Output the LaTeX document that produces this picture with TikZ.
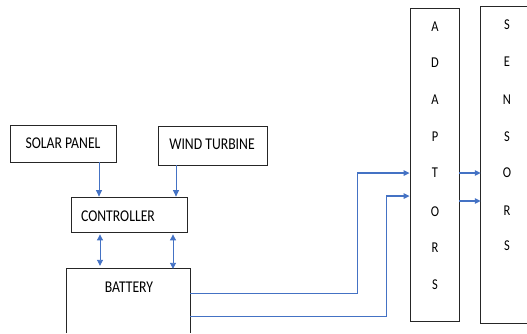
\documentclass[tikz,border=0pt]{standalone}
\usepackage{fontspec}
\setmainfont{Carlito}
\usetikzlibrary{arrows.meta}
\definecolor{linkblue}{RGB}{68,114,196}
\newcommand{\tallt}[1]{\scalebox{1}[1.2]{#1}}
\begin{document}
\begin{tikzpicture}[x=1pt,y=-1pt,
  box/.style={draw=black!85,line width=0.8pt,inner sep=0pt},
  openbox/.style={inner sep=0pt},
  lbl/.style={font=\fontsize{13.7}{14}\selectfont,inner sep=0pt},
  let/.style={font=\fontsize{12.5}{13}\selectfont,inner sep=0pt},
  conn/.style={draw=linkblue,line width=0.9pt},
  arr/.style={conn,-{Triangle[length=6.5pt,width=6pt]}},
  harr/.style={conn,line width=1.3pt,-{Triangle[length=6pt,width=5.5pt]}},
  darr/.style={conn,{Triangle[length=6pt,width=6pt]}-{Triangle[length=6pt,width=6pt]}}]
\useasboundingbox (0,0) rectangle (527,333);
% boxes
\node[box,minimum width=106pt,minimum height=37pt] (sp) at (63,143.5) {};
\node[box,minimum width=109pt,minimum height=39pt] (wt) at (212.5,145.5) {};
\node[box,minimum width=116pt,minimum height=35pt] (ctl) at (129,214.5) {};
\node[openbox,minimum width=123pt,minimum height=64pt] (bat) at (128.5,301) {};
\draw[black!85,line width=0.8pt] (bat.south west) -- (bat.north west) -- (bat.north east) -- (bat.south east);
\node[box,minimum width=49pt,minimum height=313pt] (adp) at (434.5,164.5) {};
\node[openbox,minimum width=46pt,minimum height=316pt] (sen) at (504,165) {};
\draw[black!85,line width=0.8pt] (sen.north east) -- (sen.north west) -- (sen.south west) -- (sen.south east);
% labels
\node[lbl] (tsp) at (63,143) {\tallt{SOLAR PANEL}};
\node[lbl] (twt) at (212,144) {\tallt{WIND TURBINE}};
\node[lbl] (tctl) at (118,216) {\tallt{CONTROLLER}};
\node[lbl] (tbat) at (129,287) {\tallt{BATTERY}};
% ADAPTORS letters
\node[let] (a1) at (435,27) {\tallt{A}};
\node[let] (a2) at (435,63) {\tallt{D}};
\node[let] (a3) at (435,100) {\tallt{A}};
\node[let] (a4) at (435,137) {\tallt{P}};
\node[let] (a5) at (435,173) {\tallt{T}};
\node[let] (a6) at (435,212) {\tallt{O}};
\node[let] (a7) at (435,248) {\tallt{R}};
\node[let] (a8) at (435,285) {\tallt{S}};
% SENSORS letters
\node[let] (s1) at (507,25) {\tallt{S}};
\node[let] (s2) at (507,62) {\tallt{E}};
\node[let] (s3) at (507,100) {\tallt{N}};
\node[let] (s4) at (507,137) {\tallt{S}};
\node[let] (s5) at (507,173) {\tallt{O}};
\node[let] (s6) at (507,211) {\tallt{R}};
\node[let] (s7) at (507,246) {\tallt{S}};
% connector coordinates
\coordinate (x1) at (99,0);
\coordinate (x2) at (176,0);
\coordinate (x3) at (100,0);
\coordinate (x4) at (173,0);
\coordinate (k1) at (357,293);
\coordinate (k2) at (357,173);
\coordinate (k3) at (386,316);
\coordinate (k4) at (386,196);
\coordinate (k5) at (0,173);
\coordinate (k6) at (0,201);
% connectors
\draw[arr] (sp.south -| x1) -- (ctl.north -| x1);
\draw[arr] (wt.south -| x2) -- (ctl.north -| x2);
\draw[darr] ([yshift=-2pt]ctl.south -| x3) -- ([yshift=3pt]bat.north -| x3);
\draw[darr] ([yshift=-2pt]ctl.south -| x4) -- (bat.north -| x4);
\draw[conn] (bat.east |- k1) -- (k1) -- (k2);
\draw[harr] (k2) -- (adp.west |- k2);
\draw[conn] (bat.east |- k3) -- (k3) -- (k4);
\draw[harr] (k4) -- (adp.west |- k4);
\draw[harr] (adp.east |- k5) -- (sen.west |- k5);
\draw[harr] (adp.east |- k6) -- (sen.west |- k6);
\end{tikzpicture}
\end{document}
